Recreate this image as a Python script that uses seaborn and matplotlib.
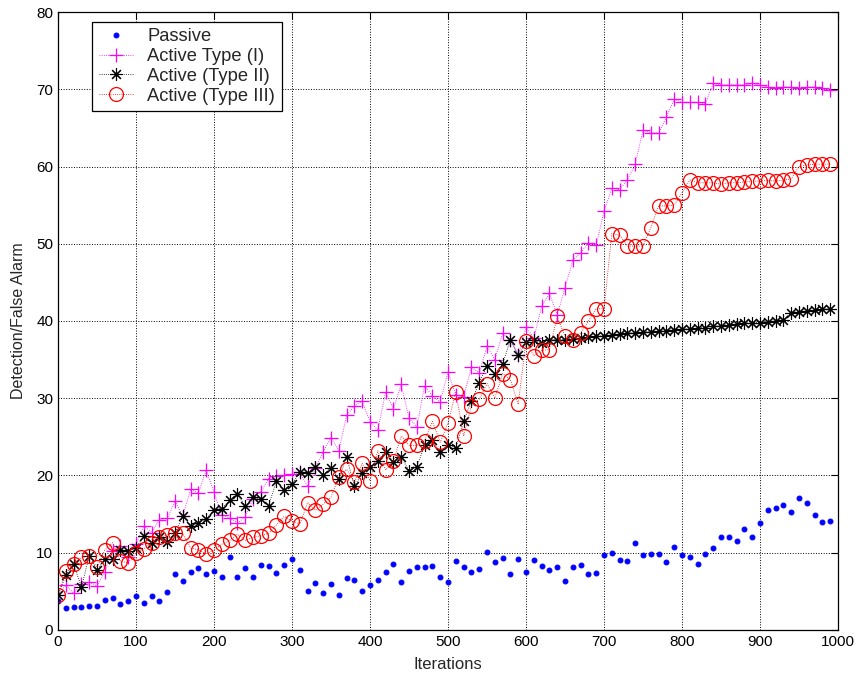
import matplotlib
matplotlib.use("Agg")
import matplotlib.pyplot as plt
import numpy as np
import seaborn as sns

# iterations 0, 10, ..., 990
iterations = np.arange(0, 1000, 10)

passive = [
    3.7, 2.9, 3.0, 3.0, 3.1, 3.1, 3.9, 4.2, 3.4, 3.75,
    4.4, 3.45, 4.45, 3.75, 4.9, 7.2, 6.4, 7.5, 8.0, 7.2,
    7.6, 6.9, 9.4, 6.8, 8.0, 6.8, 8.4, 8.3, 7.4, 8.35,
    9.2, 7.8, 5.05, 6.1, 4.8, 6.0, 4.5, 6.7, 6.5, 5.1,
    5.8, 6.5, 7.5, 8.6, 6.25, 7.6, 8.15, 8.1, 8.25, 6.9,
    6.2, 8.9, 8.2, 7.5, 7.85, 10.05, 8.8, 9.3, 7.3, 9.2,
    7.55, 9.05, 8.3, 7.7, 8.2, 6.4, 8.2, 8.4, 7.3, 7.4,
    9.65, 10.0, 9.0, 8.9, 11.3, 9.65, 9.8, 9.9, 8.75, 10.75,
    9.7, 9.4, 8.6, 9.9, 10.65, 12.0, 12.0, 11.55, 13.1, 12.1,
    13.8, 15.5, 15.8, 16.2, 15.3, 17.05, 16.4, 14.9, 14.0, 14.1,
]

active_type1 = [
    4.5, 5.8, 4.75, 6.0, 6.2, 5.7, 7.55, 10.2, 10.9, 9.4,
    11.1, 13.5, 12.6, 14.3, 14.45, 16.7, 14.8, 18.2, 17.7, 20.7,
    17.8, 14.9, 14.5, 13.9, 14.6, 17.0, 17.9, 19.6, 19.9, 20.0,
    20.2, 20.4, 18.6, 21.0, 23.1, 24.9, 23.2, 27.8, 29.0, 29.6,
    26.9, 25.9, 30.8, 28.6, 31.8, 27.4, 26.3, 31.6, 30.3, 29.5,
    33.4, 30.4, 30.2, 34.0, 33.3, 36.7, 35.0, 38.4, 37.5, 35.6,
    39.2, 37.8, 41.9, 43.6, 40.8, 44.3, 47.9, 48.8, 50.1, 49.8,
    54.2, 57.2, 57.0, 58.3, 60.3, 64.7, 64.4, 64.3, 66.4, 68.7,
    68.3, 68.3, 68.3, 68.1, 70.8, 70.55, 70.55, 70.55, 70.55, 70.8,
    70.55, 70.3, 70.2, 70.3, 70.25, 70.2, 70.25, 70.3, 70.1, 69.9,
]

active_type2 = [
    4.5, 7.1, 8.6, 5.5, 9.6, 7.8, 9.15, 9.2, 10.4, 10.2,
    10.6, 12.2, 11.3, 12.1, 11.35, 12.6, 14.75, 13.45, 13.9, 14.4,
    15.5, 15.7, 16.8, 17.6, 16.0, 17.2, 16.9, 16.1, 19.3, 18.1,
    18.85, 20.5, 20.3, 21.1, 20.1, 21.0, 19.6, 22.4, 18.6, 20.3,
    21.1, 21.9, 23.1, 21.7, 22.4, 20.6, 21.1, 23.9, 24.6, 23.0,
    24.0, 23.5, 27.1, 29.6, 32.0, 34.2, 33.1, 34.4, 37.6, 35.6,
    37.3, 37.6, 37.1, 37.6, 37.6, 37.6, 37.7, 37.8, 37.9, 38.0,
    38.1, 38.2, 38.3, 38.4, 38.5, 38.55, 38.6, 38.7, 38.75, 38.85,
    38.95, 39.0, 39.05, 39.15, 39.3, 39.4, 39.5, 39.6, 39.7, 39.75,
    39.8, 39.9, 40.0, 40.1, 41.1, 41.2, 41.3, 41.4, 41.5, 41.6,
]

active_type3 = [
    4.5, 7.6, 8.6, 9.4, 9.6, 8.1, 10.35, 11.3, 8.9, 8.7,
    10.0, 10.5, 11.3, 12.0, 12.3, 12.6, 12.5, 10.6, 10.4, 9.8,
    10.4, 11.1, 11.6, 12.4, 11.6, 12.0, 12.2, 12.5, 13.6, 14.7,
    14.1, 13.7, 16.5, 15.5, 16.3, 17.2, 19.8, 20.8, 19.1, 21.6,
    19.3, 23.2, 20.7, 21.9, 25.1, 23.9, 23.9, 24.5, 27.0, 24.3,
    26.8, 30.8, 25.1, 29.0, 29.9, 31.9, 30.0, 33.2, 32.4, 29.2,
    37.4, 35.5, 36.2, 36.3, 40.6, 38.0, 37.6, 38.4, 40.0, 41.6,
    41.6, 51.3, 51.1, 49.7, 49.7, 49.7, 52.1, 54.9, 54.9, 55.0,
    56.6, 58.25, 57.9, 57.9, 57.9, 57.7, 57.9, 57.9, 58.0, 58.1,
    58.1, 58.25, 58.1, 58.25, 58.4, 60.0, 60.2, 60.3, 60.3, 60.3,
]

sns.set_style("white")
plt.rcParams['font.family'] = ['Liberation Sans', 'DejaVu Sans']

fig = plt.figure(figsize=(8.61, 6.79), dpi=100)
ax = fig.add_axes([0.0674, 0.0722, 0.9059, 0.9101])

# Passive: dots only
sns.lineplot(x=iterations, y=passive, ax=ax, color='#0000ff', linestyle='none',
             marker='.', markersize=7, markeredgecolor='#0000ff', label='Passive')
# Active Type (I)
sns.lineplot(x=iterations, y=active_type1, ax=ax, color='#ff00ff', linestyle=':',
             linewidth=0.6, marker='+', markersize=10, markeredgewidth=0.9,
             markeredgecolor='#ff00ff', label='Active Type (I)')
# Active (Type II): matlab-style asterisk
sns.lineplot(x=iterations, y=active_type2, ax=ax, color='black', linestyle=':',
             linewidth=0.6, marker=(8, 2, 0), markersize=9, markeredgewidth=0.8,
             markeredgecolor='black', label='Active (Type II)')
# Active (Type III)
sns.lineplot(x=iterations, y=active_type3, ax=ax, color='#ff0000', linestyle=':',
             linewidth=0.6, marker='o', markersize=10, markeredgewidth=0.9,
             markerfacecolor='none', markeredgecolor='#ff0000', label='Active (Type III)')

ax.set_xlim(0, 1000)
ax.set_ylim(0, 80)
ax.set_xticks(np.arange(0, 1001, 100))
ax.set_yticks(np.arange(0, 81, 10))
ax.grid(True, linestyle=':', color='black', linewidth=0.7)
ax.tick_params(direction='in', length=5, width=0.8, top=True, right=True,
               labelsize=11, colors='black')
for s in ax.spines.values():
    s.set_color('black')
    s.set_linewidth(0.9)

ax.set_xlabel('Iterations', fontsize=12, labelpad=6)
ax.set_ylabel('Detection/False Alarm', fontsize=11.5, labelpad=7)

leg = ax.legend(loc='upper left', bbox_to_anchor=(0.044, 0.984), borderaxespad=0,
                fontsize=13.2, fancybox=False, framealpha=1, edgecolor='black',
                labelspacing=0.15, handlelength=1.85, handletextpad=0.8,
                borderpad=0.35)
leg.get_frame().set_linewidth(0.9)

fig.savefig('out.png', dpi=100)
